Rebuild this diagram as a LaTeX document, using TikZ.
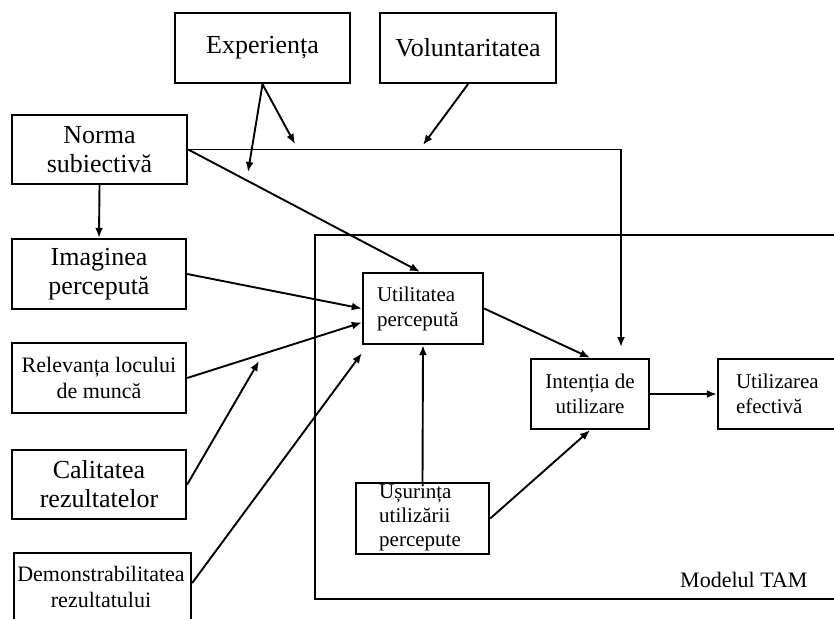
\documentclass[tikz,border=0pt]{standalone}
\usepackage{fontspec}
\setmainfont{Liberation Serif}
\usetikzlibrary{arrows.meta}
\begin{document}
\begin{tikzpicture}[x=1pt,y=-1pt,
 box/.style={draw, line width=2.4pt, inner sep=0pt, align=center},
 big/.style={font=\fontsize{26}{29}\selectfont},
 mid/.style={font=\fontsize{22}{26}\selectfont},
 small/.style={font=\fontsize{21}{25}\selectfont},
 conn/.style={line width=1.9pt, -{Latex[length=10pt,width=8pt]}}]
\useasboundingbox (0,0) rectangle (834,618);
\clip (0,0) rectangle (834,618);
% TAM frame
\draw[line width=2.2pt] (315,235) rectangle (850,599);
% left boxes
\node[box,big,minimum width=175pt,minimum height=70pt] (exp) at (262.5,48) {Experiența};
\node[box,big,minimum width=176pt,minimum height=70pt] (vol) at (468,48) {Voluntaritatea};
\node[box,big,minimum width=175pt,minimum height=69pt] (norma) at (99.5,149.5) {Norma\\subiectivă};
\node[box,big,minimum width=174pt,minimum height=70pt] (imag) at (99,274) {Imaginea\\percepută};
\node[box,mid,minimum width=174pt,minimum height=70pt] (relev) at (99,378) {Relevanța locului\\de muncă};
\node[box,big,minimum width=174pt,minimum height=69pt] (calit) at (99,484.5) {Calitatea\\rezultatelor};
\node[box,minimum width=177pt,minimum height=97pt] (demo) at (102.5,601.5) {};
\node[mid,align=center,inner sep=0pt] (demot) at (101,587) {Demonstrabilitatea\\rezultatului};
% TAM boxes
\node[box,small,minimum width=120pt,minimum height=71pt,text width=92pt,align=left] (util) at (423,308.5) {Utilitatea\\percepută};
\node[box,small,minimum width=118pt,minimum height=70pt] (intent) at (590,394) {Intenția de\\utilizare};
\node[box,small,minimum width=132pt,minimum height=70pt,text width=96pt,align=left] (utiliz) at (784,394) {Utilizarea\\efectivă};
\node[box,minimum width=133pt,minimum height=71pt] (usur) at (422.5,518.5) {};
\node[font=\fontsize{21}{24}\selectfont,align=left,anchor=north west,inner sep=0pt] (usurt) at (379,484) {Ușurința\\utilizării\\percepute};
\node[font=\fontsize{22}{25}\selectfont,anchor=base west,inner sep=0pt] (tamlbl) at (680,587) {Modelul TAM};
% free ends
\coordinate (c1) at (248,172);
\coordinate (c2) at (295,144);
\coordinate (c3) at (423,145);
\coordinate (c4) at (621,347);
\coordinate (c5) at (259,361);
% connectors
\draw[conn] (exp.south) -- (c1);
\draw[conn] (exp.south) -- (c2);
\draw[conn] (vol.south) -- (c3);
\draw[conn] (norma.east) -| (c4);
\draw[conn] (norma.east) -- ([xshift=-3pt]util.north);
\draw[conn] (norma.south) -- (imag.north);
\draw[conn] (imag.east) -- (util.west);
\draw[conn] (relev.east) -- ([yshift=-14pt]util.west);
\draw[conn] (calit.east) -- (c5);
\draw[conn] ([yshift=18.5pt]demo.east) -- ([yshift=-8pt]util.south west);
\draw[conn] (util.east) -- (intent.north);
\draw[conn] (usur.north) -- (util.south);
\draw[conn] (usur.east) -- (intent.south);
\draw[conn] (intent.east) -- (utiliz.west);
\end{tikzpicture}
\end{document}
